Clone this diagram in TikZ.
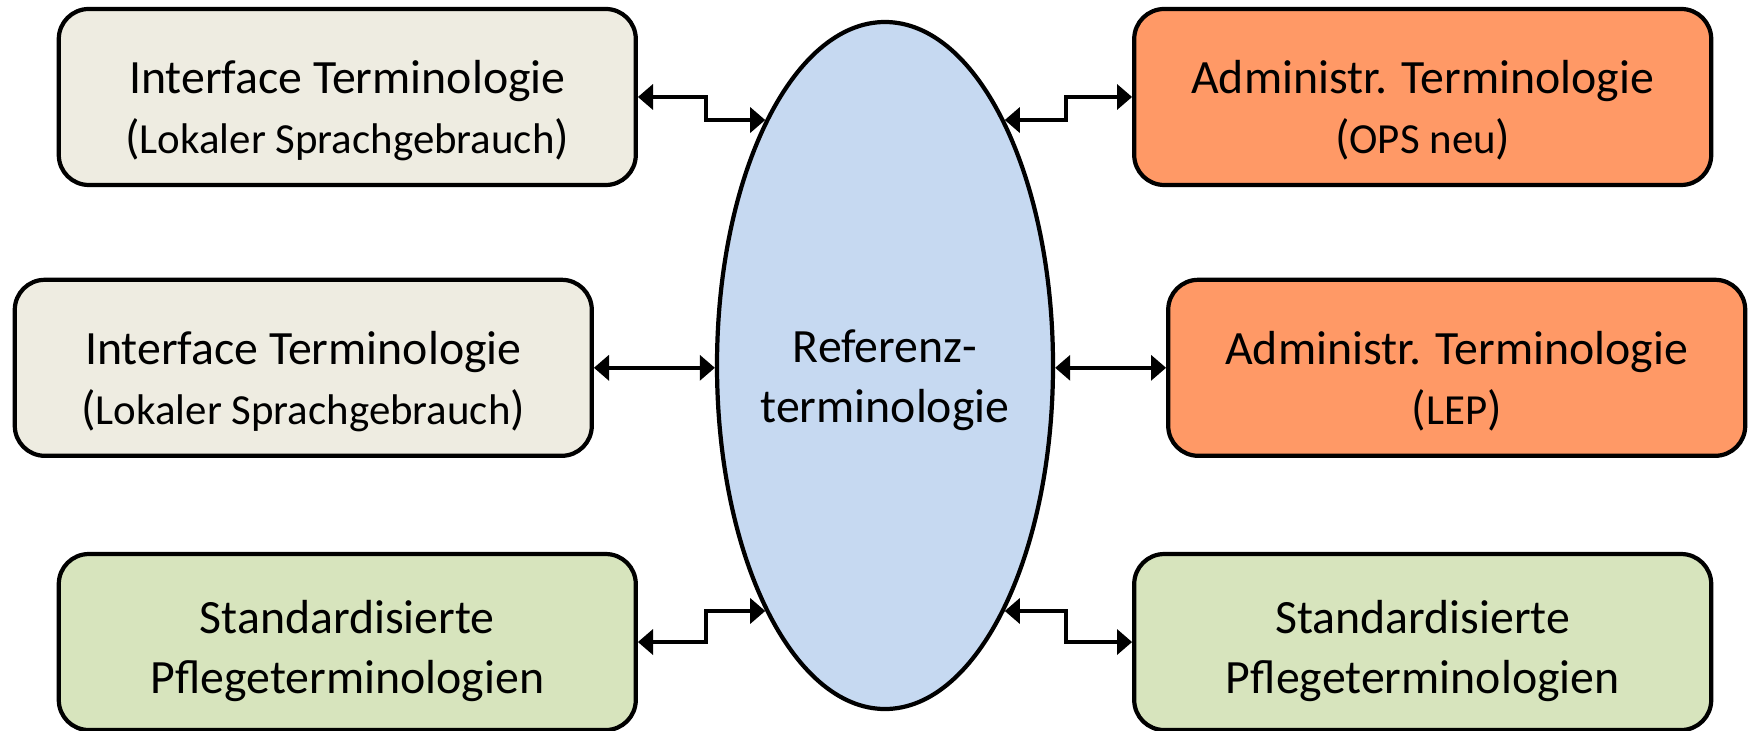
\documentclass[tikz,border=0pt]{standalone}
\usepackage{fontspec}
\setmainfont{Carlito}
\usetikzlibrary{arrows.meta,positioning,shapes.geometric}
\definecolor{lightbeige}{RGB}{238,236,225}
\definecolor{adminorange}{RGB}{255,153,102}
\definecolor{lightgreen}{RGB}{215,228,189}
\definecolor{refblue}{RGB}{198,217,241}
\newcommand{\bracketline}[1]{({\fontsize{12.2}{17}\selectfont #1})}

\begin{document}
\begin{tikzpicture}[
  block/.style={rectangle, draw=black, align=center, rounded corners=0.3cm, minimum width=5.77cm, minimum height=1.76cm, line width=1.2pt, font=\fontsize{13.6}{17}\selectfont, execute at begin node={\rule{0pt}{#1}}},
  block/.default=1.2cm,
  refnode/.style={ellipse, draw=black, fill=refblue, align=center, minimum width=3.36cm, minimum height=6.87cm, inner xsep=-4mm, inner ysep=0pt, line width=1.2pt, font=\fontsize{13.6}{17}\selectfont, execute at begin node={\rule{0pt}{1.22cm}}},
  arrow/.style={<->, >={Triangle[length=4.3pt,width=7.1pt]}, line width=1.1pt}
]
  \useasboundingbox (0,0) rectangle (17.52,-7.30);

  \node[refnode] (ref) at (8.85,-3.655) {Referenz-\\terminologie};

  \node[block, fill=lightbeige, left=1.21cm of ref, yshift=-0.023cm] (iface2) {Interface Terminologie\\\bracketline{Lokaler Sprachgebrauch}};
  \node[block, fill=lightbeige, above=0.906cm of iface2, xshift=0.44cm] (iface1) {Interface Terminologie\\\bracketline{Lokaler Sprachgebrauch}};
  \node[block=1.11cm, fill=lightgreen, below=0.94cm of iface2, xshift=0.44cm] (std1) {Standardisierte\\Pflegeterminologien};

  \node[block, fill=adminorange, right=1.11cm of ref, yshift=-0.023cm] (admin2) {Administr. Terminologie\\\bracketline{LEP}};
  \node[block, fill=adminorange, above=0.906cm of admin2, xshift=-0.34cm] (admin1) {Administr. Terminologie\\\bracketline{OPS neu}};
  \node[block=1.11cm, fill=lightgreen, below=0.94cm of admin2, xshift=-0.34cm] (std2) {Standardisierte\\Pflegeterminologien};

  \draw[arrow] (iface1.east) -- ++(0.68,0) |- (ref.116);
  \draw[arrow] (iface2.east) -- (iface2.east -| ref.west);
  \draw[arrow] (std1.east) -- ++(0.68,0) |- (ref.244);
  \draw[arrow] (admin1.west) -- ++(-0.66,0) |- (ref.64);
  \draw[arrow] (admin2.west) -- (admin2.west -| ref.east);
  \draw[arrow] (std2.west) -- ++(-0.66,0) |- (ref.-64);
\end{tikzpicture}
\end{document}
